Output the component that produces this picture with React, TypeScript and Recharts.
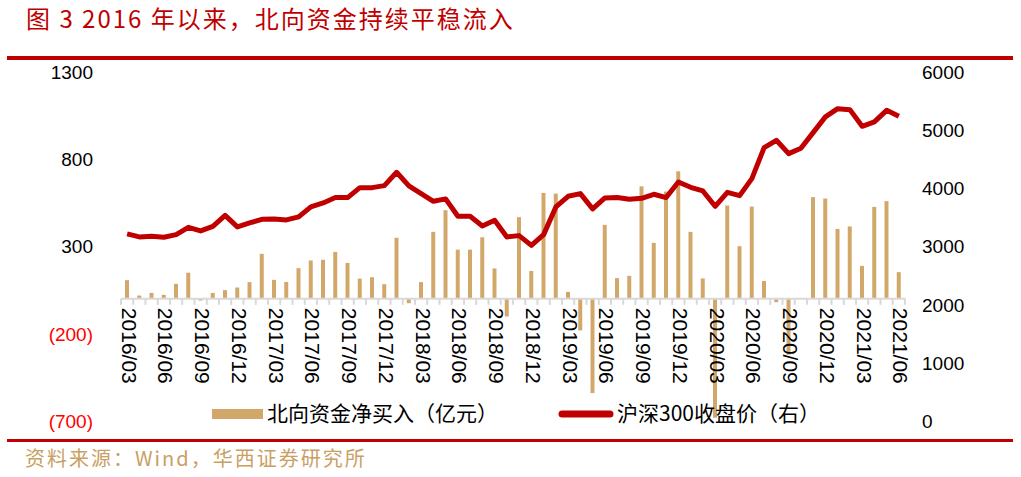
import React from "react";
import { ComposedChart, Bar, Line, XAxis, YAxis, ReferenceLine } from "recharts";

// 月份（2016/03 - 2021/06）
const months = [
  "2016/03", "2016/04", "2016/05", "2016/06", "2016/07", "2016/08", "2016/09", "2016/10",
  "2016/11", "2016/12", "2017/01", "2017/02", "2017/03", "2017/04", "2017/05", "2017/06",
  "2017/07", "2017/08", "2017/09", "2017/10", "2017/11", "2017/12", "2018/01", "2018/02",
  "2018/03", "2018/04", "2018/05", "2018/06", "2018/07", "2018/08", "2018/09", "2018/10",
  "2018/11", "2018/12", "2019/01", "2019/02", "2019/03", "2019/04", "2019/05", "2019/06",
  "2019/07", "2019/08", "2019/09", "2019/10", "2019/11", "2019/12", "2020/01", "2020/02",
  "2020/03", "2020/04", "2020/05", "2020/06", "2020/07", "2020/08", "2020/09", "2020/10",
  "2020/11", "2020/12", "2021/01", "2021/02", "2021/03", "2021/04", "2021/05", "2021/06",
];

// 北向资金净买入（亿元）
const northbound = [
  107, 19, 34, 23, 86, 150, -10, 34,
  50, 65, 96, 258, 109, 97, 176, 220,
  224, 269, 206, 116, 124, 84, 350, -25,
  96, 384, 508, 282, 282, 353, 174, -101,
  468, 160, 607, 603, 40, -181, -540, 424,
  119, 132, 645, 321, 615, 731, 384, 117,
  -681, 535, 302, 529, 103, -19, -320, 0,
  583, 575, 401, 415, 189, 527, 560, 153,
];

// 沪深300收盘价
const csi300 = [
  3216, 3165, 3175, 3158, 3204, 3330, 3268, 3347,
  3536, 3337, 3405, 3468, 3474, 3457, 3509, 3681,
  3749, 3841, 3841, 4012, 4012, 4047, 4276, 4041,
  3909, 3777, 3818, 3519, 3519, 3354, 3450, 3165,
  3187, 3020, 3204, 3681, 3863, 3909, 3646, 3835,
  3841, 3812, 3829, 3898, 3841, 4110, 4018, 3955,
  3691, 3932, 3875, 4167, 4700, 4826, 4597, 4688,
  4958, 5228, 5370, 5353, 5066, 5142, 5341, 5238,
];

const leftTicks = [-700, -200, 300, 800, 1300];
const rightTicks = [0, 1000, 2000, 3000, 4000, 5000, 6000];

const W = 1021;
const H = 477;
const X_AXIS_H = 1;
const margin = { top: 72, right: 0, bottom: 55, left: 0 };
const LEFT_W = 121;
const RIGHT_W = 116;
const PLOT_W = W - margin.left - margin.right - LEFT_W - RIGHT_W;
const PLOT_H = H - margin.top - margin.bottom - X_AXIS_H;
const L_MIN = -700;
const L_MAX = 1300;

const BAR_COLOR = "#D2A86A";
const LINE_COLOR = "#C00000";
const CJK = "'Noto Sans CJK SC', sans-serif";
const NUM = "'Liberation Sans', Arial, sans-serif";

const data = months.map((m, i) => ({ month: m, flow: northbound[i], csi: csi300[i] }));

const MonthTick = (props: any) => {
  const { x, y, index, payload } = props;
  // x轴画在左轴0值处
  const zeroY = y - (PLOT_H * (0 - L_MIN)) / (L_MAX - L_MIN);
  const band = PLOT_W / months.length;
  const left = x - band / 2;
  return (
    <g>
      <line x1={left} x2={left} y1={zeroY} y2={zeroY + 6} stroke="#D9D9D9" strokeWidth={2} />
      {index === months.length - 1 && (
        <line x1={x + band / 2} x2={x + band / 2} y1={zeroY} y2={zeroY + 6} stroke="#D9D9D9" strokeWidth={2} />
      )}
      {index % 3 === 0 && (
        <text
          transform={`translate(${x + 2},${zeroY + 9}) rotate(90)`}
          dominantBaseline="central"
          textAnchor="start"
          fontSize={21}
          fontFamily={NUM}
          fill="#000"
        >
          {payload.value}
        </text>
      )}
    </g>
  );
};

const LeftTick = (props: any) => {
  const { x, y, payload } = props;
  const v = payload.value;
  return (
    <text x={x} y={y} dy="0.36em" textAnchor="end" fontSize={19} fontFamily={NUM} fill={v < 0 ? "#FF0000" : "#000"}>
      {v < 0 ? `(${-v})` : v}
    </text>
  );
};

const RightTick = (props: any) => {
  const { x, y, payload } = props;
  return (
    <text x={x} y={y} dy="0.36em" textAnchor="start" fontSize={19} fontFamily={NUM} fill="#000">
      {payload.value}
    </text>
  );
};

const ChartLegend = () => (
  <svg width={860} height={40} style={{ position: "absolute", left: 0, top: 394, display: "block" }}>
    <rect x={212} y={15} width={51} height={10} fill={BAR_COLOR} />
    <text x={267} y={20} dy="0.35em" fontSize={21} fontFamily={CJK} fill="#000">
      北向资金净买入（亿元）
    </text>
    <line x1={562} x2={610} y1={20} y2={20} stroke={LINE_COLOR} strokeWidth={7} strokeLinecap="round" />
    <text x={617} y={20} dy="0.35em" fontSize={21} fontFamily={CJK} fill="#000">
      沪深300收盘价（右）
    </text>
  </svg>
);

export default function App() {
  return (
    <div style={{ position: "absolute", left: 0, top: 0, width: W, height: H, background: "#fff", overflow: "hidden" }}>
      <div
        style={{
          position: "absolute",
          left: 26,
          top: 3,
          fontSize: 24,
          lineHeight: "30px",
          color: "#C00000",
          fontFamily: CJK,
          whiteSpace: "nowrap",
          letterSpacing: 2,
        }}
      >
        图 3 2016 年以来，北向资金持续平稳流入
      </div>
      <div style={{ position: "absolute", left: 7, top: 56, width: 1006, height: 4, background: "#C00000" }} />

      <div style={{ position: "absolute", left: 0, top: 0 }}>
        <ComposedChart width={W} height={H} data={data} margin={margin}>
          <XAxis
            dataKey="month"
            xAxisId="x"
            height={X_AXIS_H}
            interval={0}
            axisLine={false}
            tickLine={false}
            tickSize={0}
            tickMargin={0}
            tick={<MonthTick />}
          />
          <YAxis
            yAxisId="left"
            orientation="left"
            width={LEFT_W}
            domain={[L_MIN, L_MAX]}
            ticks={leftTicks}
            axisLine={false}
            tickLine={false}
            tickSize={0}
            tickMargin={28}
            tick={<LeftTick />}
          />
          <YAxis
            yAxisId="right"
            orientation="right"
            width={RIGHT_W}
            domain={[0, 6000]}
            ticks={rightTicks}
            axisLine={false}
            tickLine={false}
            tickSize={0}
            tickMargin={17}
            tick={<RightTick />}
          />
          <ReferenceLine y={0} xAxisId="x" yAxisId="left" stroke="#D9D9D9" strokeWidth={2} />
          <Bar
            dataKey="flow"
            xAxisId="x"
            yAxisId="left"
            fill={BAR_COLOR}
            barSize={4}
            isAnimationActive={false}
          />
          <Line
            dataKey="csi"
            xAxisId="x"
            yAxisId="right"
            type="linear"
            stroke={LINE_COLOR}
            strokeWidth={5}
            strokeLinejoin="round"
            dot={false}
            activeDot={false}
            isAnimationActive={false}
          />
        </ComposedChart>
      </div>

      <ChartLegend />

      <div style={{ position: "absolute", left: 7, top: 439, width: 1006, height: 3, background: "#C00000" }} />
      <div
        style={{
          position: "absolute",
          left: 25,
          top: 444,
          fontSize: 20,
          lineHeight: "28px",
          color: "#C9A063",
          fontFamily: CJK,
          whiteSpace: "nowrap",
          letterSpacing: 2,
        }}
      >
        资料来源：Wind，华西证券研究所
      </div>
    </div>
  );
}
